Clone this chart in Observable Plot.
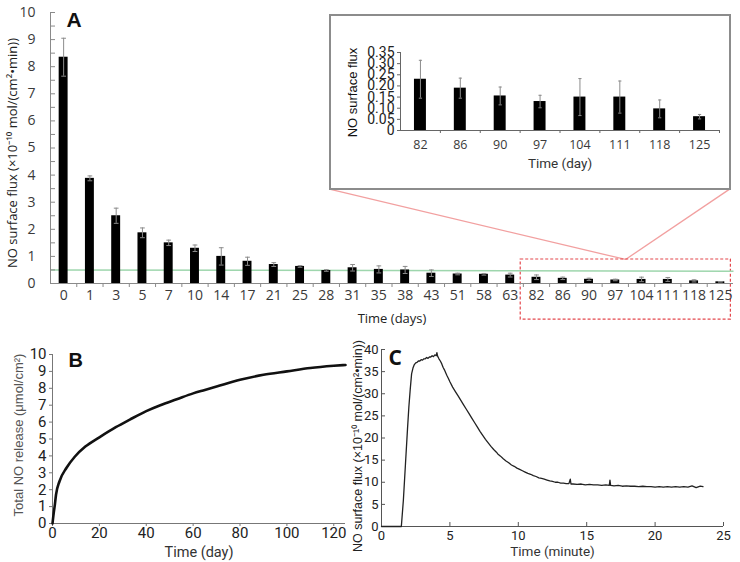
<!DOCTYPE html>
<html><head><meta charset="utf-8">
<script src="https://cdn.jsdelivr.net/npm/d3@7"></script>
<script src="https://cdn.jsdelivr.net/npm/@observablehq/plot@0.6"></script>
<style>
body{margin:0;background:#fff;}
#fig{position:relative;width:740px;height:562px;overflow:hidden;background:#fff;}
#fig > *{position:absolute;}
#inset{left:329px;top:14px;width:402px;height:176px;border:2px solid #8c8c8c;box-sizing:border-box;background:#fff;}
svg{overflow:visible;}
</style></head><body><div id="fig"><div id="inset"></div></div>
<script>
// ---------- Panel A data ----------
const daysA = ["0","1","3","5","7","10","14","17","21","25","28","31","35","38","43","51","58","63","82","86","90","97","104","111","118","125"];
const fluxA = [8.35,3.88,2.5,1.87,1.5,1.3,1.0,0.82,0.7,0.63,0.48,0.58,0.52,0.5,0.38,0.35,0.34,0.31,0.23,0.19,0.155,0.13,0.15,0.15,0.097,0.062];
const errA  = [0.7,0.09,0.28,0.18,0.1,0.12,0.32,0.15,0.07,0.03,0.03,0.12,0.13,0.13,0.12,0.03,0.03,0.07,0.085,0.045,0.04,0.028,0.083,0.072,0.04,0.01];
const yTicksA = [0,1,2,3,4,5,6,7,8,9,10];
const thresholdA = [0.5, 0.45]; // green reference line, left and right ends
// ---------- Inset data ----------
const daysInset = ["82","86","90","97","104","111","118","125"];
const fluxInset = [0.23,0.19,0.155,0.13,0.15,0.15,0.097,0.062];
const errInset  = [0.085,0.045,0.04,0.028,0.083,0.072,0.04,0.01];
const yTicksInset = [0,0.05,0.10,0.15,0.20,0.25,0.30,0.35];
// ---------- Panel B data (day, total NO µmol/cm²) ----------
const dayB = [0,0.5,1,1.5,3,6,9.5,14,20,27,33,40,46,53,60,65,70,80,90,100,110,120,125];
const totalB = [0,0.6,1.1,1.7,2.5,3.3,3.95,4.55,5.1,5.7,6.15,6.65,7.0,7.35,7.7,7.9,8.1,8.5,8.8,9.0,9.2,9.33,9.38];
// ---------- Panel C data (minute, flux) ----------
const minC = [0,1.45,1.6,1.75,1.9,2.0,2.1,2.2,2.3,2.4,2.5,2.6,2.7,2.8,2.9,3.0,3.1,3.2,3.3,3.4,3.5,3.6,3.7,3.8,3.9,4.0,4.05,4.1,4.2,4.3,4.4,4.5,4.6,4.7,4.8,4.9,5.0,5.2,5.4,5.6,5.8,6.0,6.2,6.4,6.6,6.8,7.0,7.2,7.4,7.6,7.8,8.0,8.2,8.4,8.5,8.7,8.9,9.1,9.3,9.5,9.7,9.9,10.1,10.3,10.5,10.7,10.9,11.1,11.3,11.5,11.7,11.9,12.1,12.3,12.5,12.7,12.9,13.1,13.3,13.5,13.7,13.8,13.85,14.0,14.3,14.6,14.9,15.2,15.5,15.8,16.1,16.4,16.65,16.7,16.75,17.0,17.3,17.6,17.9,18.2,18.5,18.8,19.1,19.4,19.7,20.0,20.3,20.6,20.9,21.2,21.5,21.8,22.1,22.4,22.7,23.0,23.3,23.5];
const fluxC = [0,0,6,14,22,27,31,34.5,35.8,36.6,37.0,37.1,37.4,37.4,37.7,37.6,37.9,37.9,38.2,38.0,38.3,38.3,38.6,38.4,38.8,38.6,39.3,38.5,37.9,37.4,36.8,36.0,35.4,34.7,34.0,33.4,32.7,31.5,30.5,29.5,28.5,27.5,26.5,25.5,24.5,23.5,22.5,21.5,20.6,19.7,18.9,18.1,17.4,16.8,16.4,15.9,15.3,14.8,14.4,13.9,13.6,13.2,12.9,12.6,12.3,12.0,11.8,11.5,11.3,11.0,10.9,10.7,10.5,10.3,10.2,10.0,10.0,9.8,9.8,9.7,9.7,10.7,9.6,9.6,9.5,9.6,9.4,9.5,9.4,9.4,9.3,9.4,9.3,10.5,9.3,9.2,9.3,9.1,9.2,9.1,9.1,9.0,9.1,9.0,9.0,8.9,9.0,8.9,9.0,8.9,9.0,8.9,9.0,8.9,9.2,8.8,9.1,9.0];

const fig = document.getElementById("fig");
const ARIAL = "'Liberation Sans', Arial, sans-serif";
const ROBOTO = "Roboto, 'Liberation Sans', Arial, sans-serif";
const OPEN = "'Open Sans', sans-serif";
const AX = "#8a8a8a";

// ================= Panel A =================
const dataA = daysA.map((d, i) => ({i, day: d, v: fluxA[i], e: errA[i]}));
const nA = daysA.length;
const i82 = daysA.indexOf(daysInset[0]);
const plotA = Plot.plot({
  width: 740, height: 330,
  marginLeft: 50, marginRight: 7, marginTop: 12, marginBottom: 47,
  style: {fontFamily: OPEN, fontSize: "14px", color: "#3a3a3a", background: "transparent", overflow: "visible"},
  x: {type: "linear", domain: [-0.5, nA - 0.5]},
  y: {domain: [0, 10]},
  marks: [
    // connector lines to the inset
    Plot.link([0, 1], {
      x1: 21.39, y1: 0.886,
      x2: k => k === 0 ? 10.16 : 25.38, y2: k => k === 0 ? 3.47 : 3.5,
      stroke: "#f2a0a0", strokeWidth: 1.3
    }),
    // dashed selection box around the inset days
    Plot.rect([0], {x1: i82 - 0.6, x2: nA - 0.6, y1: -1.33, y2: 0.886,
      fill: "none", stroke: "#e4474c", strokeWidth: 1.2, strokeDasharray: "3,2"}),
    // green reference line
    Plot.link([0], {x1: -0.5, x2: nA - 0.5, y1: thresholdA[0], y2: thresholdA[1], stroke: "#9ed6ad", strokeWidth: 1.5}),
    // axes
    Plot.ruleY([0], {stroke: AX}),
    Plot.ruleX([-0.5], {stroke: AX}),
    Plot.ruleY(d3.range(0, 10.01, 0.5), {stroke: AX, insetRight: 683 - 5}),
    Plot.axisY({ticks: yTicksA, tickSize: 0, tickPadding: 15, label: null, fill: "#3a3a3a"}),
    Plot.axisX({ticks: d3.range(0.5, nA - 1, 1), tickSize: 4, stroke: AX, tickFormat: () => "", label: null}),
    Plot.axisX({ticks: d3.range(nA), tickSize: 0, tickPadding: 7, tickFormat: i => daysA[i], label: null, fill: "#3a3a3a"}),
    // bars + error bars
    Plot.rectY(dataA, {x1: d => d.i - 0.17, x2: d => d.i + 0.17, y1: 0, y2: "v", fill: "#000"}),
    Plot.ruleX(dataA, {x: "i", y1: d => d.v - d.e, y2: d => d.v + d.e, stroke: "#8c8c8c"}),
    Plot.link(dataA, {x1: d => d.i - 0.09, x2: d => d.i + 0.09, y1: d => d.v + d.e, y2: d => d.v + d.e, stroke: "#8c8c8c"}),
    Plot.link(dataA, {x1: d => d.i - 0.09, x2: d => d.i + 0.09, y1: d => d.v - d.e, y2: d => d.v - d.e, stroke: "#8c8c8c"}),
    // texts
    Plot.text(["Time (days)"], {frameAnchor: "bottom", dy: 35, lineAnchor: "middle", textAnchor: "middle", fontSize: 13, fill: "#222"}),
    Plot.text(["NO surface flux (×10⁻¹⁰ mol/(cm²•min))"], {frameAnchor: "left", rotate: -90, dx: -38, dy: 5, textAnchor: "middle", lineAnchor: "middle", fontSize: 13, fill: "#222"}),
    Plot.text(["A"], {frameAnchor: "top-left", dx: 16, dy: 0, lineAnchor: "top", textAnchor: "start", fontSize: 21, fontWeight: "bold", fontFamily: ARIAL, fill: "#111"})
  ]
});
plotA.style.left = "0px"; plotA.style.top = "0px";
fig.insertBefore(plotA, fig.firstChild);

// ================= Inset =================
const dataI = daysInset.map((d, i) => ({i, v: fluxInset[i], e: errInset[i]}));
const nI = daysInset.length;
const plotI = Plot.plot({
  width: 398, height: 172,
  marginLeft: 69, marginRight: 10, marginTop: 36, marginBottom: 58,
  style: {fontFamily: ROBOTO, fontSize: "13.5px", color: "#222", background: "#fff", overflow: "visible"},
  x: {type: "linear", domain: [-0.5, nI - 0.5]},
  y: {domain: [0, 0.35]},
  marks: [
    Plot.ruleY([0], {stroke: "#666"}),
    Plot.ruleX([-0.5], {stroke: "#666"}),
    Plot.axisY({ticks: yTicksInset, tickSize: 3, tickPadding: 3, stroke: "#666", label: null,
      tickFormat: d => d === 0 ? "0" : d.toFixed(2), fontSize: 14}),
    Plot.axisX({ticks: d3.range(0.5, nI, 1), tickSize: 3, stroke: "#666", tickFormat: () => "", label: null}),
    Plot.axisX({ticks: d3.range(nI), tickSize: 0, tickPadding: 10, tickFormat: i => daysInset[i], label: null,
      fontFamily: OPEN, fontSize: 12.5, fill: "#3a3a3a"}),
    Plot.rectY(dataI, {x1: d => d.i - 0.15, x2: d => d.i + 0.15, y1: 0, y2: "v", fill: "#000"}),
    Plot.ruleX(dataI, {x: "i", y1: d => d.v - d.e, y2: d => d.v + d.e, stroke: "#8c8c8c"}),
    Plot.link(dataI, {x1: d => d.i - 0.04, x2: d => d.i + 0.04, y1: d => d.v + d.e, y2: d => d.v + d.e, stroke: "#8c8c8c"}),
    Plot.link(dataI, {x1: d => d.i - 0.04, x2: d => d.i + 0.04, y1: d => d.v - d.e, y2: d => d.v - d.e, stroke: "#8c8c8c"}),
    Plot.text(["Time (day)"], {frameAnchor: "bottom", dy: 33, lineAnchor: "middle", textAnchor: "middle", fontSize: 13.5, fontWeight: 400, fill: "#333"}),
    Plot.text(["NO surface flux"], {frameAnchor: "left", rotate: -90, dx: -48, dy: 1, textAnchor: "middle", lineAnchor: "middle", fontSize: 13, fontFamily: ARIAL, fill: "#111"})
  ]
});
document.getElementById("inset").appendChild(plotI);
plotI.style.position = "absolute"; plotI.style.left = "0px"; plotI.style.top = "0px";

// ================= Panel B =================
const dataB = dayB.map((d, i) => ({t: d, v: totalB[i]}));
const plotB = Plot.plot({
  width: 370, height: 232,
  marginLeft: 52, marginRight: 25, marginTop: 24, marginBottom: 39,
  style: {fontFamily: ROBOTO, fontSize: "15px", color: "#222", background: "transparent", overflow: "visible"},
  x: {domain: [0, 125]},
  y: {domain: [0, 10]},
  marks: [
    Plot.ruleY([0], {stroke: "#777"}),
    Plot.ruleX([0], {stroke: "#777"}),
    Plot.axisY({ticks: d3.range(0, 11), tickSize: 3, tickPadding: 3, stroke: "#777", label: null}),
    Plot.axisX({ticks: d3.range(0, 121, 20), tickSize: 3, tickPadding: 1, stroke: "#777", label: null}),
    Plot.line(dataB, {x: "t", y: "v", stroke: "#111", strokeWidth: 2.6, curve: "monotone-x"}),
    Plot.text(["Time (day)"], {frameAnchor: "bottom", dy: 29, lineAnchor: "middle", textAnchor: "middle", fontSize: 14.5, fontWeight: 400, fill: "#333"}),
    Plot.text(["Total NO release (μmol/cm²)"], {frameAnchor: "left", rotate: -90, dx: -34, dy: -4, textAnchor: "middle", lineAnchor: "middle", fontSize: 13, fontFamily: ARIAL, fill: "#555"}),
    Plot.text(["B"], {frameAnchor: "top-left", dx: 16, dy: -2, lineAnchor: "top", textAnchor: "start", fontSize: 20, fontWeight: "bold", fontFamily: ARIAL, fill: "#111"})
  ]
});
plotB.style.left = "0px"; plotB.style.top = "330px";
fig.appendChild(plotB);

// ================= Panel C =================
const dataC = minC.map((d, i) => ({t: d, v: fluxC[i]}));
const plotC = Plot.plot({
  width: 400, height: 232,
  marginLeft: 41, marginRight: 17, marginTop: 19, marginBottom: 36,
  style: {fontFamily: ROBOTO, fontSize: "13px", color: "#222", background: "transparent", overflow: "visible"},
  x: {domain: [0, 25]},
  y: {domain: [0, 40]},
  marks: [
    Plot.ruleY([0], {stroke: "#555"}),
    Plot.ruleX([0], {stroke: "#555"}),
    Plot.ruleY(d3.range(0, 41, 5), {stroke: "#555", insetRight: 342 - 4}),
    Plot.ruleX(d3.range(0, 26, 5), {stroke: "#555", insetTop: 177 - 4}),
    Plot.axisY({ticks: d3.range(0, 41, 5), tickSize: 0, tickPadding: 3, label: null}),
    Plot.axisX({ticks: d3.range(0, 26, 5), tickSize: 0, tickPadding: 4, label: null}),
    Plot.line(dataC, {x: "t", y: "v", stroke: "#222", strokeWidth: 1.3}),
    Plot.text(["Time (minute)"], {frameAnchor: "bottom", dy: 25, lineAnchor: "middle", textAnchor: "middle", fontSize: 13.5, fontWeight: 400, fill: "#333"}),
    Plot.text(["NO surface flux (×10⁻¹⁰ mol/(cm²•min))"], {frameAnchor: "left", rotate: -90, dx: -24, dy: 8, textAnchor: "middle", lineAnchor: "middle", fontSize: 12.5, fontFamily: ARIAL, fill: "#222"}),
    Plot.text(["C"], {frameAnchor: "top-left", dx: 7, dy: 1, lineAnchor: "top", textAnchor: "start", fontSize: 21, fontWeight: "bold", fontFamily: OPEN, fill: "#111"})
  ]
});
plotC.style.left = "340px"; plotC.style.top = "330px";
fig.appendChild(plotC);
</script>
</body></html>
